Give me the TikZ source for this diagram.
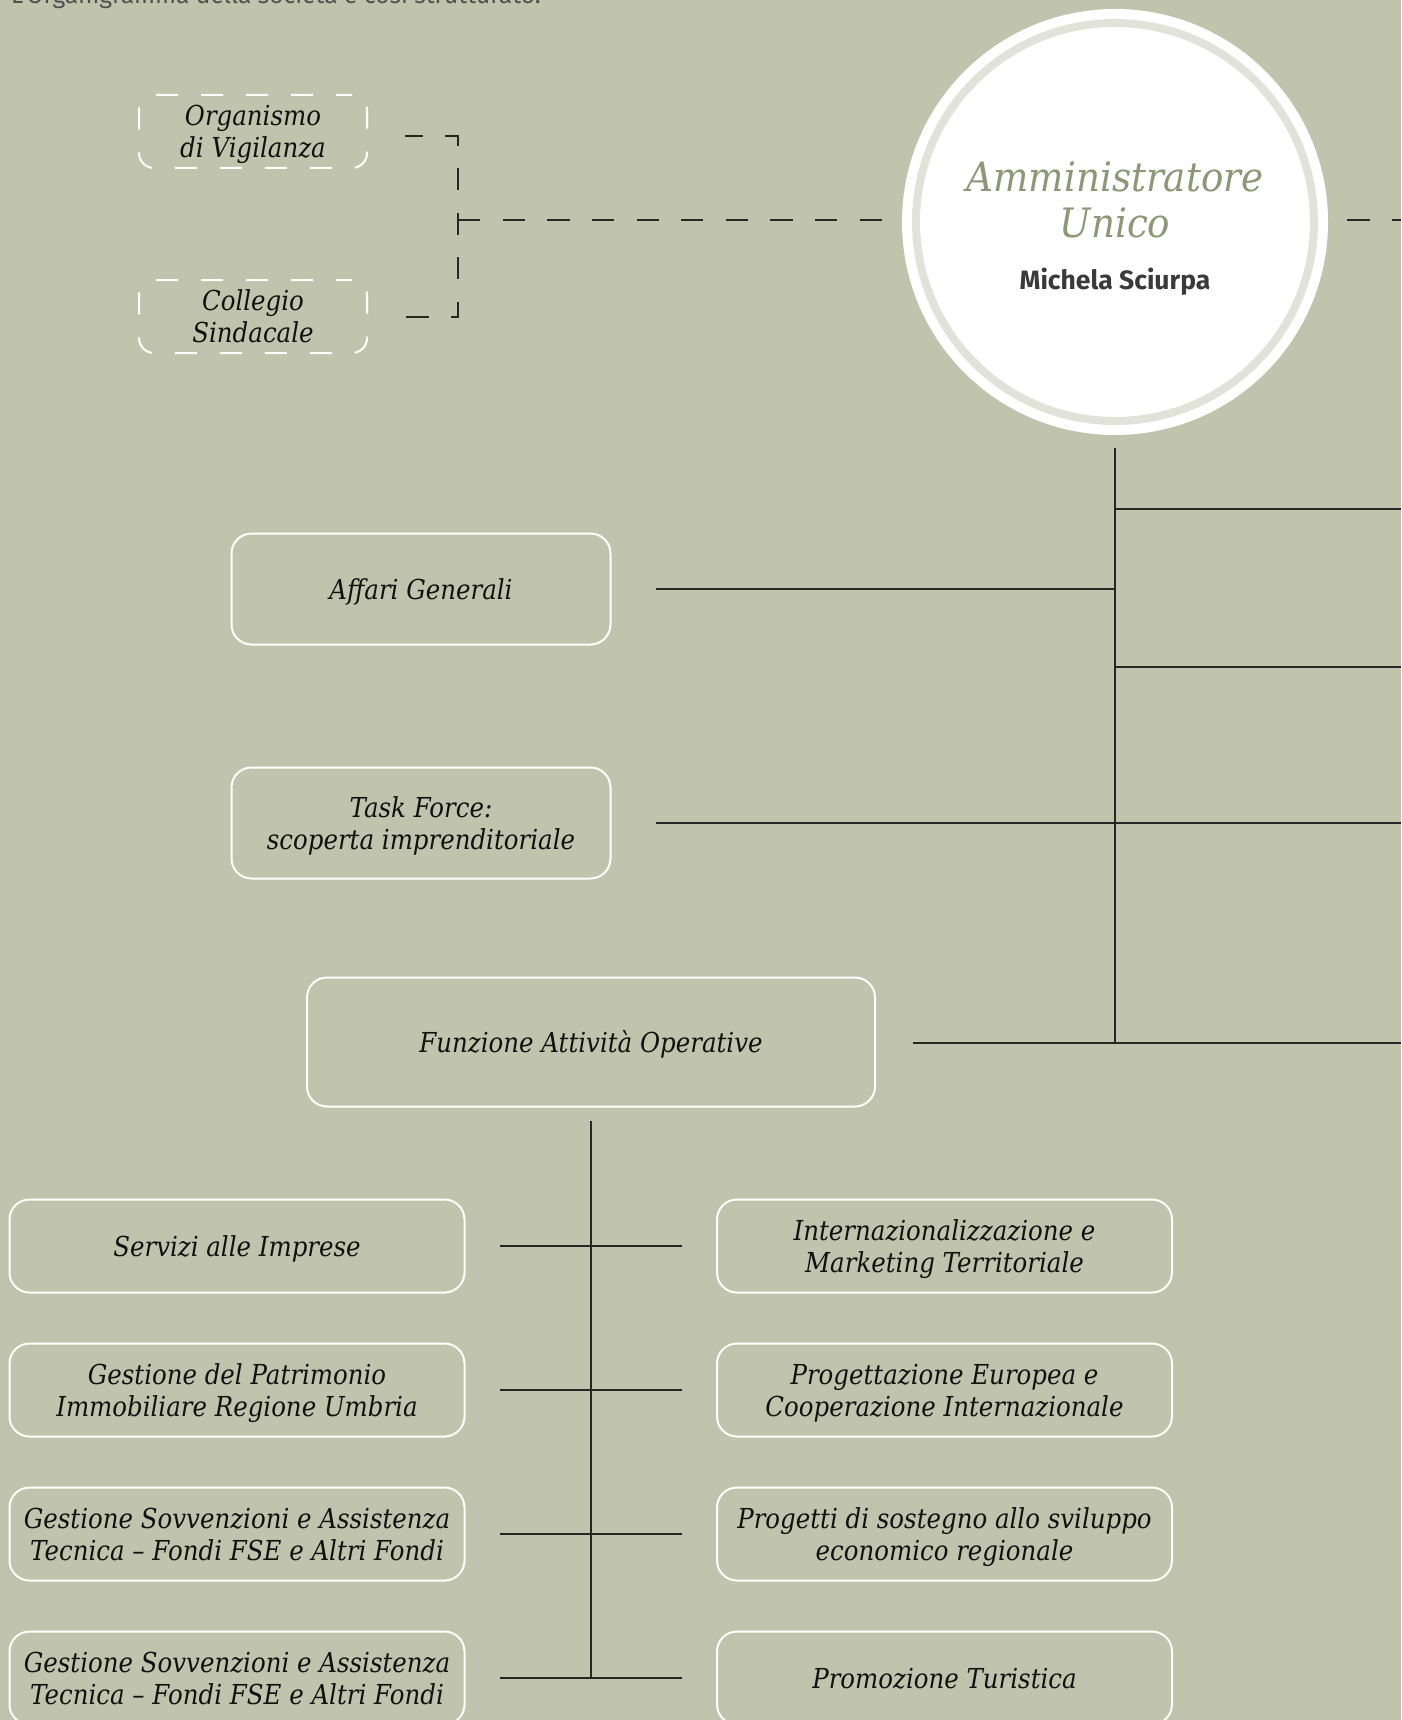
\documentclass[tikz,border=0pt]{standalone}
\usepackage{fontspec}
\setmainfont{DejaVu Serif}
\newfontfamily\boxfont{DejaVu Serif}[FakeStretch=0.89]
\newfontfamily\titlefont{DejaVu Serif}[FakeStretch=0.92]
\newfontfamily\headfont{Fira Sans}
\newcommand\boxlines[1]{\rule{0pt}{29pt}#1\rule[-9pt]{0pt}{0pt}}
\definecolor{bg}{HTML}{C0C4AD}
\definecolor{ringc}{HTML}{E1E3D9}
\definecolor{titlec}{HTML}{8C9876}
\definecolor{inkc}{HTML}{111111}
\definecolor{linec}{HTML}{262724}
\definecolor{namec}{HTML}{3A3A3A}
\definecolor{introc}{HTML}{505050}
\begin{document}
\begin{tikzpicture}[x=1pt,y=-1pt,
  boxtext/.style={align=center, inner sep=0pt, text=inkc,
    font=\boxfont\itshape\fontsize{27.5}{32}\selectfont},
  unitbox/.style={boxtext, draw=white, line width=2pt, rounded corners=20pt},
  rowbox/.style={unitbox, minimum width=455pt, minimum height=93pt},
  midbox/.style={unitbox, minimum width=379pt, minimum height=111pt},
  dbox/.style={boxtext, draw=white, line width=2pt, rounded corners=15pt,
    dash pattern=on 22pt off 23pt, dash phase=6pt,
    minimum width=228pt, minimum height=73pt},
  hline/.style={draw=linec, line width=1.5pt},
  trunk/.style={draw=linec, line width=2.2pt},
  dline/.style={draw=linec, line width=1.5pt, dash pattern=on 22.3pt off 22.3pt},
]
\useasboundingbox (0,0) rectangle (1401,1720);
\fill[bg] (0,0) rectangle (1401,1720);

% intro text
\node[anchor=base west, inner sep=0pt, text=introc,
  font=\headfont\fontsize{24.5}{28}\selectfont] (intro) at (11,4)
  {L’Organigramma della società è così strutturato.};

% top circle
\node[circle, fill=white, minimum size=426pt, inner sep=0pt] (au) at (1115,222) {};
\draw[ringc, line width=8pt] (au.center) circle[radius=199pt];
\node[anchor=base, align=center, inner sep=0pt, text=titlec,
  font=\titlefont\itshape\fontsize{40.5}{47}\selectfont] (aut) at (1115,238)
  {Amministratore\\Unico};
\node[anchor=base, inner sep=0pt, text=namec,
  font=\headfont\bfseries\fontsize{26.5}{30}\selectfont] (aun) at (1115,289)
  {Michela Sciurpa};

% control bodies
\node[dbox] (ov) at (253,131.5) {\boxlines{Organismo\\di Vigilanza}};
\node[dbox] (cs) at (253,316.5) {\boxlines{Collegio\\Sindacale}};

\coordinate (bt) at (405,136);
\coordinate (bb) at (405,317);
\coordinate (bj) at (458,220);
\coordinate (rd) at (1401,220);
\draw[dline, dash phase=4.25pt] (bt) -- (bt -| bj) -- (bb -| bj) -- (bb);
\draw[dline, dash phase=24.6pt] (bj -| au.west) -- (bj);
\draw[dline, dash phase=25.6pt] (rd -| au.east) -- (rd);

% staff units
\node[midbox] (aff) at (421,589) {\boxlines{Affari Generali}};
\node[midbox] (task) at (421,823) {\boxlines{Task Force:\\scoperta imprenditoriale}};
\node[unitbox, minimum width=568pt, minimum height=129pt] (fun) at (591,1042)
  {\boxlines{Funzione Attività Operative}};

% trunk
\coordinate (tt) at (1115,448);
\coordinate (r1) at (1401,509);
\coordinate (r2) at (1401,667);
\coordinate (r3) at (1401,823);
\coordinate (r4) at (1401,1043);
\draw[trunk] (tt) -- (tt |- r4);
\draw[hline] (tt |- r1) -- (r1);
\draw[hline] (tt |- r2) -- (r2);
\draw[hline] (tt |- r3) -- (r3);
\draw[hline] (tt |- r4) -- (r4);
\draw[hline] ([xshift=44pt]aff.east) -- (aff.east -| tt);
\draw[hline] ([xshift=44pt]task.east) -- (task.east -| tt);
\draw[hline] ([xshift=37pt]fun.east |- r4) -- (tt |- r4);

% operative units
\node[rowbox] (l1) at (237,1246) {\boxlines{Servizi alle Imprese}};
\node[rowbox] (l2) at (237,1390) {\boxlines{Gestione del Patrimonio\\Immobiliare Regione Umbria}};
\node[rowbox] (l3) at (237,1534) {\boxlines{Gestione Sovvenzioni e Assistenza\\Tecnica – Fondi FSE e Altri Fondi}};
\node[rowbox] (l4) at (237,1678) {\boxlines{Gestione Sovvenzioni e Assistenza\\Tecnica – Fondi FSE e Altri Fondi}};
\node[rowbox] (q1) at (944.5,1246) {\boxlines{Internazionalizzazione e\\Marketing Territoriale}};
\node[rowbox] (q2) at (944.5,1390) {\boxlines{Progettazione Europea e\\Cooperazione Internazionale}};
\node[rowbox] (q3) at (944.5,1534) {\boxlines{Progetti di sostegno allo sviluppo\\economico regionale}};
\node[rowbox] (q4) at (944.5,1678) {\boxlines{Promozione Turistica}};

\draw[hline] ([yshift=-13pt]fun.south) -- (fun.south |- l4.east);
\foreach \i in {1,2,3,4}{
  \draw[hline] ([xshift=34pt]l\i.east) -- ([xshift=-34pt]q\i.west);
}
\end{tikzpicture}
\end{document}
